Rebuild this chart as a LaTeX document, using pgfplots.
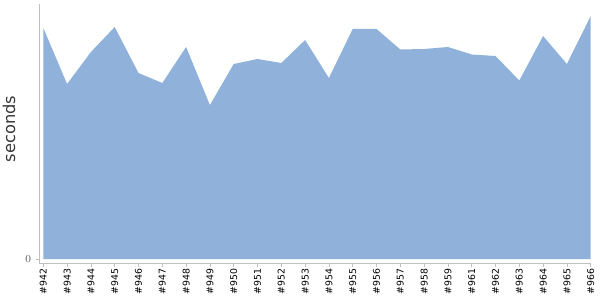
\documentclass[border=0pt]{standalone}
\usepackage{fontspec}
\setmainfont{DejaVu Sans}
\usepackage{pgfplots}
\pgfplotsset{compat=1.18}
\definecolor{areab}{HTML}{8FB1DA}
\definecolor{axgray}{HTML}{C0C0C0}
\begin{document}
\begin{tikzpicture}[x=1pt,y=1pt]
\begin{axis}[
  scale only axis,
  width=413.4pt, height=194.25pt,
  xmin=-0.16, xmax=23, ymin=-4, ymax=255,
  axis x line*=bottom, axis y line*=left,
  axis line style={axgray, line width=0.75pt},
  xtick={0,...,23},
  xticklabels={\#942,\#943,\#944,\#945,\#946,\#947,\#948,\#949,\#950,\#951,\#952,\#953,\#954,\#955,\#956,\#957,\#958,\#959,\#961,\#962,\#963,\#964,\#965,\#966},
  x tick label style={rotate=90, anchor=east, font=\fontsize{7}{8}\selectfont, black, inner sep=1.5pt},
  ytick={0},
  y tick label style={font=\fontsize{8.2}{9}\selectfont, color=black!65, inner sep=0pt, xshift=-3.4pt},
  tick style={axgray, line width=0.6pt},
  major tick length=2.8pt,
  tick align=outside,
  ylabel={seconds},
  every axis y label/.style={at={(rel axis cs:0,0.5)}, anchor=center, rotate=90, xshift=3.4pt, yshift=22.9pt, font=\fontsize{12.2}{13}\selectfont, color=black!78},
  clip=false,
]
\addplot[draw=none, fill=areab] coordinates {
(0,231) (1,175) (2,207) (3,232) (4,186) (5,176) (6,212) (7,154) (8,195) (9,200) (10,196) (11,219) (12,181) (13,230) (14,230) (15,209.5) (16,210) (17,212) (18,204.5) (19,203) (20,178.5) (21,223) (22,195) (23,243)
} \closedcycle;
\coordinate (bl) at (rel axis cs:0,0);
\end{axis}
\pgfresetboundingbox
\path (bl) ++(-39.5*0.75,-37*0.75) rectangle ++(450,225);
\end{tikzpicture}
\end{document}
